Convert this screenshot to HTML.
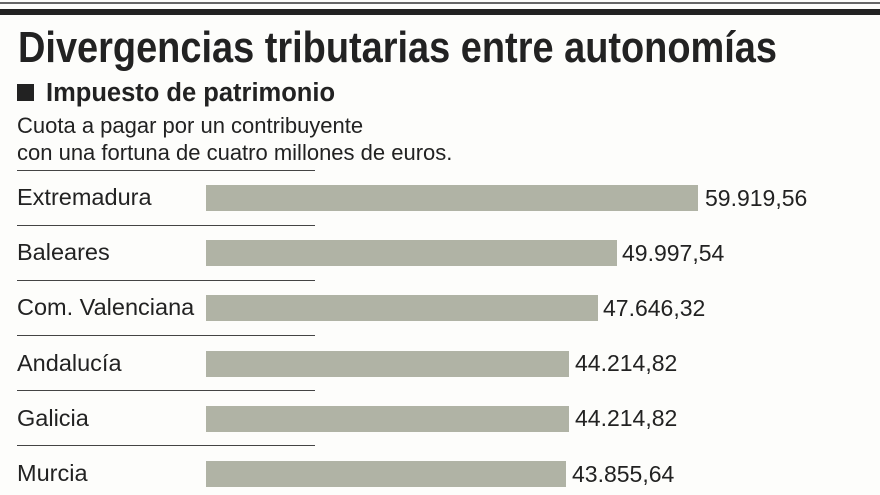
<!DOCTYPE html>
<html><head><meta charset="utf-8"><style>
body{margin:0;width:880px;height:495px;background:#fdfdfb;overflow:hidden;position:relative;font-family:"Liberation Sans",sans-serif;color:#222}
.a{position:absolute;white-space:nowrap}
.bar{position:absolute;left:206px;height:26px;background:#b0b3a5}
.sep{position:absolute;left:17px;width:298px;height:1px;background:#444}
.lab{position:absolute;left:17px;font-size:23.5px;line-height:26px}
.val{position:absolute;font-size:23px;line-height:26px}
</style></head><body>
<div class="a" style="left:0;top:2px;width:880px;height:2px;background:#666"></div>
<div class="a" style="left:0;top:9px;width:880px;height:6px;background:#222"></div>
<div class="a" style="left:18px;top:24px;font-size:44px;font-weight:bold;line-height:48px;transform-origin:0 0" id="t">Divergencias tributarias entre autonomías</div>
<div class="a" style="left:17px;top:84px;width:17px;height:17px;background:#222"></div>
<div class="a" style="left:46px;top:78px;font-size:25.5px;font-weight:bold;line-height:30px">Impuesto de patrimonio</div>
<div class="a" style="left:17px;top:112px;font-size:22px;line-height:27px">Cuota a pagar por un contribuyente<br>con una fortuna de cuatro millones de euros.</div>
<div class="sep" style="top:170px"></div>
<div class="sep" style="top:225px"></div>
<div class="sep" style="top:280px"></div>
<div class="sep" style="top:335px"></div>
<div class="sep" style="top:390px"></div>
<div class="sep" style="top:445px"></div>
<div class="lab" style="top:184px">Extremadura</div>
<div class="lab" style="top:239px">Baleares</div>
<div class="lab" style="top:294px">Com. Valenciana</div>
<div class="lab" style="top:350px">Andalucía</div>
<div class="lab" style="top:405px">Galicia</div>
<div class="lab" style="top:460px">Murcia</div>
<div class="bar" style="top:185px;width:492px"></div>
<div class="bar" style="top:240px;width:411px"></div>
<div class="bar" style="top:295px;width:392px"></div>
<div class="bar" style="top:351px;width:363px"></div>
<div class="bar" style="top:406px;width:363px"></div>
<div class="bar" style="top:461px;width:360px"></div>
<div class="val" style="left:705px;top:185px">59.919,56</div>
<div class="val" style="left:622px;top:240px">49.997,54</div>
<div class="val" style="left:603px;top:295px">47.646,32</div>
<div class="val" style="left:575px;top:350px">44.214,82</div>
<div class="val" style="left:575px;top:405px">44.214,82</div>
<div class="val" style="left:572px;top:461px">43.855,64</div>
<script>
var t=document.getElementById('t');var w=t.getBoundingClientRect().width;t.style.transform='scaleX('+(759/w)+')';
</script>
</body></html>
